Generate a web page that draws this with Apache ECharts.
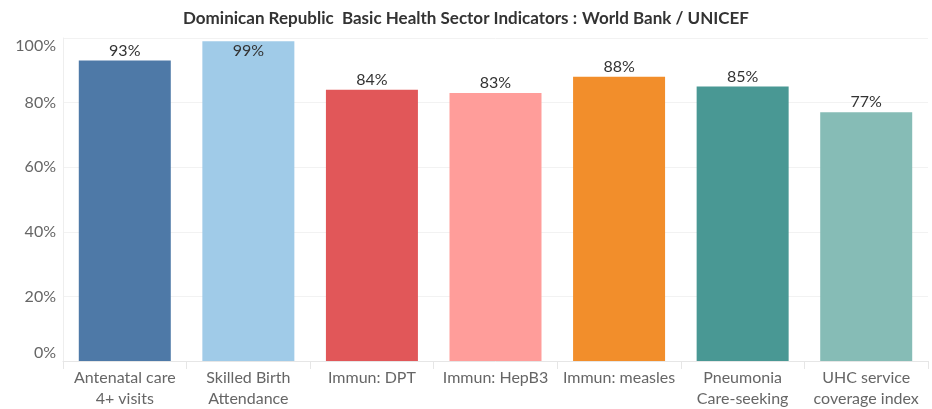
<!DOCTYPE html>
<html>
<head>
<meta charset="utf-8">
<script src="https://cdn.jsdelivr.net/npm/echarts@6/dist/echarts.min.js"></script>
<style>
html,body{margin:0;padding:0;background:#fff;}
#chart{width:932px;height:409px;}
</style>
</head>
<body>
<div id="chart"></div>
<script>
var categories = ['Antenatal care\n4+ visits','Skilled Birth\nAttendance','Immun: DPT','Immun: HepB3','Immun: measles','Pneumonia\nCare-seeking','UHC service\ncoverage index'];
var values = [93, 99, 84, 83, 88, 85, 77];
var bar_colors = ['#4E79A7','#A0CBE8','#E15759','#FF9D9A','#F28E2B','#499894','#86BCB6'];
var y_ticks = [0, 20, 40, 60, 80, 100];

var myChart = echarts.init(document.getElementById('chart'));
myChart.setOption({
	animation: false,
	title: {
		text: '{b|Dominican Republic  Basic Health Sector Indicators :} {n|World Bank / UNICEF}',
		left: 'center',
		top: 5,
		textStyle: {
			rich: {
				b: {fontFamily: 'Lato', fontWeight: 'bold', fontSize: 17, color: '#333'},
				n: {fontFamily: 'Lato', fontSize: 17, color: '#333'}
			}
		}
	},
	grid: {left: 63, right: 4, top: 38, bottom: 46},
	xAxis: {
		type: 'category',
		data: categories,
		axisLine: {lineStyle: {color: '#e6e6e6'}},
		axisTick: {show: true, length: 8, lineStyle: {color: '#e6e6e6'}},
		axisLabel: {interval: 0, color: '#666', fontFamily: 'Lato', fontSize: 16, lineHeight: 21, margin: 6}
	},
	yAxis: {
		type: 'value',
		min: 0,
		max: 100,
		interval: 20,
		axisLine: {show: true, lineStyle: {color: '#eeeeee'}},
		axisTick: {show: false},
		splitLine: {lineStyle: {color: '#f2f2f2'}},
		axisLabel: {
			color: '#666', fontFamily: 'Lato', fontSize: 16, margin: 7,
			verticalAlignMaxLabel: 'top',
			verticalAlignMinLabel: 'bottom',
			formatter: function(v){ return y_ticks.indexOf(v) >= 0 ? v + '%' : ''; }
		}
	},
	series: [{
		type: 'bar',
		barWidth: 92,
		data: values.map(function(v, i){
			var item = {value: v, itemStyle: {color: bar_colors[i]}};
			// label too close to the top edge goes inside the bar
			if (v > 96) item.label = {position: 'insideTop', distance: 2};
			return item;
		}),
		label: {
			show: true,
			position: 'top',
			distance: 2,
			formatter: '{c}%',
			color: '#333',
			fontFamily: 'Lato',
			fontSize: 16
		}
	}]
});
</script>
</body>
</html>
